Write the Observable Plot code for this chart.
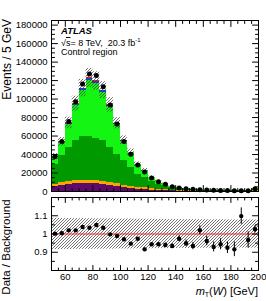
<!DOCTYPE html>
<html><head><meta charset="utf-8">
<script src="https://cdn.jsdelivr.net/npm/d3@7"></script>
<script src="https://cdn.jsdelivr.net/npm/@observablehq/plot@0.6"></script>
<style>
html,body{margin:0;padding:0;background:#fff;}
#wrap{position:relative;width:266px;height:301px;overflow:hidden;font-family:"Liberation Sans",Arial,Helvetica,sans-serif;color:#000;}
.abs{position:absolute;white-space:nowrap;line-height:1;}
</style></head><body>
<svg width="0" height="0" style="position:absolute"><defs>
<pattern id="hatch" patternUnits="userSpaceOnUse" width="3" height="3"><path d="M-0.75,0.75 L0.75,-0.75 M0,3 L3,0 M2.25,3.75 L3.75,2.25" stroke="#333" stroke-width="0.7"/></pattern>
</defs></svg>
<div id="wrap">
  <div id="top" class="abs" style="left:0;top:0"></div>
  <div id="bot" class="abs" style="left:0;top:193px"></div>
  <div class="abs" style="left:61px;top:26px;font-size:9.5px;font-weight:bold;font-style:italic;">ATLAS</div>
  <div class="abs" style="left:61px;top:37px;font-size:9px;">√<span style="text-decoration:overline">s</span>= 8 TeV,&nbsp; 20.3 fb<sup style="font-size:6px;vertical-align:4px">-1</sup></div>
  <div class="abs" style="left:61px;top:48px;font-size:9px;">Control region</div>
  <div class="abs" style="left:1px;top:19px;font-size:12px;transform-origin:0 0;transform:rotate(-90deg) translateX(-100%);">Events / 5 GeV</div>
  <div class="abs" style="left:1px;top:247px;font-size:11.5px;transform-origin:0 0;transform:rotate(-90deg) translateX(-50%);">Data / Background</div>
  <div class="abs" style="right:8px;top:286px;font-size:11px;"><i>m</i><sub style="font-size:7px;vertical-align:-2px">T</sub>(<i>W</i>) [GeV]</div>
</div>
<script>
// bins (GeV)
const binLo = [50,55,60,65,70,75,80,85,90,95,100,105,110,115,120,125,130,135,140,145,150,155,160,165,170,175,180,185,190,195];
const binW = 5;
// stacked backgrounds (events / 5 GeV), bottom to top
const seriesNames = ["purple","orange","darkGreen","brightGreen","blue","red"];
const seriesColors = ["#5e0a6c","#ffa200","#009a00","#14f514","#2040e0","#ff1a1a"];
const purple = [4900,6500,7600,8200,8500,8600,8400,7600,6500,5500,4300,3400,2600,2000,1500,1100,800,600,450,350,270,210,170,140,115,95,80,65,55,200];
const orange = [2900,3200,3400,3500,3500,3500,3400,3300,3100,2900,2600,2400,2100,1800,1500,1200,950,750,580,460,370,300,250,210,180,160,130,120,100,350];
const darkGreen = [21700,28800,36500,43800,47400,47300,45900,43800,37900,31900,26100,20000,14200,11600,7850,5760,4390,2830,1930,1590,1310,980,780,810,685,661,460,445,400,1700];
const brightGreen = [7600,14250,25250,37750,50400,61150,59650,52800,44350,32050,21470,15930,9990,7130,4310,2890,1980,1260,845,685,560,422,320,316,260,248,178,169,147,600];
const blue = [600,800,1100,1400,1600,1700,1700,1600,1400,1100,850,650,450,350,250,180,130,90,65,50,40,30,25,20,18,15,12,12,10,40];
const red = [200,250,350,450,500,550,550,500,450,350,280,220,160,120,90,70,50,40,30,25,20,18,15,14,12,11,10,9,8,30];
// data
const dataVals = [38000,54000,75700,97000,116200,127000,125500,113300,93500,73000,54000,40300,28700,21100,14600,10600,7800,5200,3800,3000,2400,2000,1500,1400,1200,1100,800,900,700,3000];
const ratioVals = [1.002,1.004,1.02,1.02,1.038,1.034,1.049,1.034,0.998,0.989,0.971,0.947,0.974,0.916,0.944,0.944,0.94,0.934,0.974,0.949,0.934,1.02,0.962,0.929,0.944,0.925,0.916,1.098,0.967,1.026];
const ratioErr = [0.004,0.004,0.003,0.003,0.003,0.003,0.003,0.003,0.003,0.004,0.005,0.005,0.006,0.007,0.008,0.01,0.011,0.013,0.016,0.018,0.02,0.025,0.026,0.027,0.03,0.032,0.04,0.045,0.045,0.02];
// relative background uncertainty (hatched band)
const relUnc = [0.086,0.085,0.085,0.084,0.084,0.084,0.083,0.083,0.083,0.082,0.082,0.082,0.081,0.081,0.081,0.080,0.080,0.080,0.079,0.079,0.079,0.078,0.078,0.078,0.078,0.077,0.077,0.077,0.077,0.077];
// ticks
const xTicks = [60,80,100,120,140,160,180,200];
const yTicks = [0,20000,40000,60000,80000,100000,120000,140000,160000,180000];
const rTicks = [0.9,1,1.1];

const series = [purple, orange, darkGreen, brightGreen, blue, red];
const stackRows = [];
binLo.forEach((lo, i) => series.forEach((arr, k) => stackRows.push({lo, hi: lo + binW, s: seriesNames[k], v: arr[i]})));
const bins = binLo.map((lo, i) => ({
  lo, hi: lo + binW, c: lo + binW / 2,
  tot: d3.sum(series, a => a[i]), data: dataVals[i], ratio: ratioVals[i], err: ratioErr[i], u: relUnc[i]
}));

const tickShape = {draw(ctx, l) { ctx.moveTo(0, 0); ctx.lineTo(0, -l); }};
function inTicks(values, dim, anchor, len) {
  const rotate = {bottom: 0, top: 180, left: 90, right: -90}[anchor];
  return Plot.vector(values, {[dim]: d => d, frameAnchor: anchor, length: len, rotate, anchor: "start", shape: tickShape, stroke: "black", strokeWidth: 1});
}
const xMinor = d3.range(50, 201, 5).filter(v => v % 20 !== 0);
const yMinor = d3.range(0, 185001, 5000).filter(v => v % 20000 !== 0);
const rMajor = [0.8, 0.9, 1, 1.1, 1.2];
const rMinor = [0.85, 0.95, 1.05, 1.15];
const font = {fontFamily: "'Liberation Sans', Arial, Helvetica, sans-serif", fontSize: "9.5px", background: "transparent", overflow: "visible", color: "black"};

const topPlot = Plot.plot({
  width: 266, height: 193, marginLeft: 51, marginRight: 8, marginTop: 20, marginBottom: 2,
  style: font,
  x: {domain: [50, 200], axis: null},
  y: {domain: [0, 185000], axis: null},
  color: {domain: seriesNames, range: seriesColors},
  marks: [
    Plot.rectY(stackRows, {x: "lo", x1: "lo", x2: "hi", y: "v", fill: "s", shapeRendering: "crispEdges"}),
    Plot.rect(bins, {x1: "lo", x2: "hi", y1: d => d.tot * (1 - d.u), y2: d => d.tot * (1 + d.u), fill: "url(#hatch)"}),
    Plot.dot(bins, {x: "c", y: "data", r: 2.5, fill: "black"}),
    Plot.frame({stroke: "black"}),
    inTicks(xTicks, "x", "top", 6), inTicks(xMinor, "x", "top", 3),
    inTicks(xTicks, "x", "bottom", 6), inTicks(xMinor, "x", "bottom", 3),
    inTicks(yTicks, "y", "left", 6), inTicks(yMinor, "y", "left", 3),
    inTicks(yTicks, "y", "right", 6), inTicks(yMinor, "y", "right", 3),
    Plot.axisY(yTicks, {anchor: "left", tickSize: 0, tickPadding: 4, tickFormat: d => String(d), label: null})
  ]
});
document.getElementById("top").appendChild(topPlot);

const botPlot = Plot.plot({
  width: 266, height: 108, marginLeft: 51, marginRight: 8, marginTop: 4, marginBottom: 31,
  style: font,
  x: {domain: [50, 200], axis: null},
  y: {domain: [0.8, 1.2], axis: null},
  marks: [
    Plot.rect(bins, {x1: "lo", x2: "hi", y1: d => 1 - d.u, y2: d => 1 + d.u, fill: "url(#hatch)"}),
    Plot.ruleY([1], {stroke: "#ff2020", strokeWidth: 1.2}),
    Plot.ruleX(bins, {x: "c", y1: d => d.ratio - d.err, y2: d => d.ratio + d.err, stroke: "black", strokeWidth: 1}),
    Plot.dot(bins, {x: "c", y: "ratio", r: 2.2, fill: "black"}),
    Plot.frame({stroke: "black"}),
    inTicks(xTicks, "x", "top", 5), inTicks(xMinor, "x", "top", 2.5),
    inTicks(xTicks, "x", "bottom", 5), inTicks(xMinor, "x", "bottom", 2.5),
    inTicks(rMajor, "y", "left", 6), inTicks(rMinor, "y", "left", 3),
    inTicks(rMajor, "y", "right", 6), inTicks(rMinor, "y", "right", 3),
    Plot.axisX(xTicks, {anchor: "bottom", tickSize: 0, tickPadding: 3, label: null}),
    Plot.axisY(rTicks, {anchor: "left", tickSize: 0, tickPadding: 4, tickFormat: d => String(d), label: null})
  ]
});
document.getElementById("bot").appendChild(botPlot);
</script>
</body></html>
